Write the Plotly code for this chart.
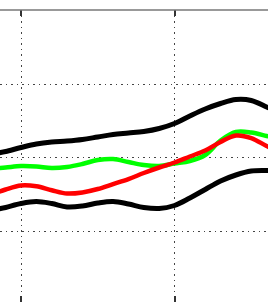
import plotly.graph_objects as go

x_vals = [8.5, 9, 10, 11, 12, 13, 14, 15, 16, 17, 18, 19, 20, 21, 22, 23, 24, 25, 26, 26.5]

upper_black = [0.061, 0.082, 0.136, 0.184, 0.211, 0.224, 0.245, 0.279, 0.313, 0.333,
               0.354, 0.395, 0.463, 0.565, 0.660, 0.735, 0.789, 0.776, 0.687, 0.640]
green_vals = [-0.143, -0.136, -0.116, -0.122, -0.143, -0.129, -0.088, -0.034, -0.020, -0.061,
              -0.102, -0.116, -0.082, -0.048, 0.034, 0.231, 0.347, 0.340, 0.293, 0.270]
red_vals = [-0.470, -0.435, -0.381, -0.392, -0.445, -0.490, -0.475, -0.429, -0.361, -0.293,
            -0.211, -0.136, -0.068, 0.014, 0.095, 0.211, 0.299, 0.265, 0.156, 0.110]
lower_black = [-0.701, -0.680, -0.626, -0.599, -0.626, -0.673, -0.660, -0.619, -0.599, -0.633,
               -0.680, -0.694, -0.653, -0.551, -0.435, -0.320, -0.238, -0.184, -0.177, -0.177]

x_ticks = [10, 20]
y_ticks = [-1, 0, 1]

fig = go.Figure()
series = [
    (upper_black, "#000000", 5),
    (lower_black, "#000000", 5),
    (green_vals, "#00ff00", 4.5),
    (red_vals, "#ff0000", 4.5),
]
for vals, col, w in series:
    fig.add_trace(go.Scatter(x=x_vals, y=vals, mode="lines",
                             line=dict(color=col, width=w, shape="spline", smoothing=1.0),
                             showlegend=False, hoverinfo="skip"))

fig.update_layout(
    width=268, height=302,
    margin=dict(l=0, r=0, t=10, b=0),
    paper_bgcolor="white", plot_bgcolor="white",
    showlegend=False,
    xaxis=dict(range=[8.632, 26.091], tickvals=x_ticks, showticklabels=False,
               showgrid=True, gridcolor="#444444", gridwidth=1, griddash="1.5px,4px",
               zeroline=False, showline=False, ticks="inside", mirror="ticks",
               ticklen=6, tickwidth=2, tickcolor="#333333"),
    yaxis=dict(range=[-1.966, 2.007], tickvals=y_ticks, showticklabels=False,
               showgrid=True, gridcolor="#444444", gridwidth=1, griddash="1.5px,4px",
               zeroline=False, showline=False, ticks=""),
    shapes=[dict(type="line", xref="paper", yref="paper", x0=0, x1=1, y0=1, y1=1,
                 line=dict(color="#777777", width=1.5))],
)

fig.write_html("out.html",
               config={"displayModeBar": False, "staticPlot": True},
               post_script="document.body.style.margin='0';document.body.style.overflow='hidden';")
